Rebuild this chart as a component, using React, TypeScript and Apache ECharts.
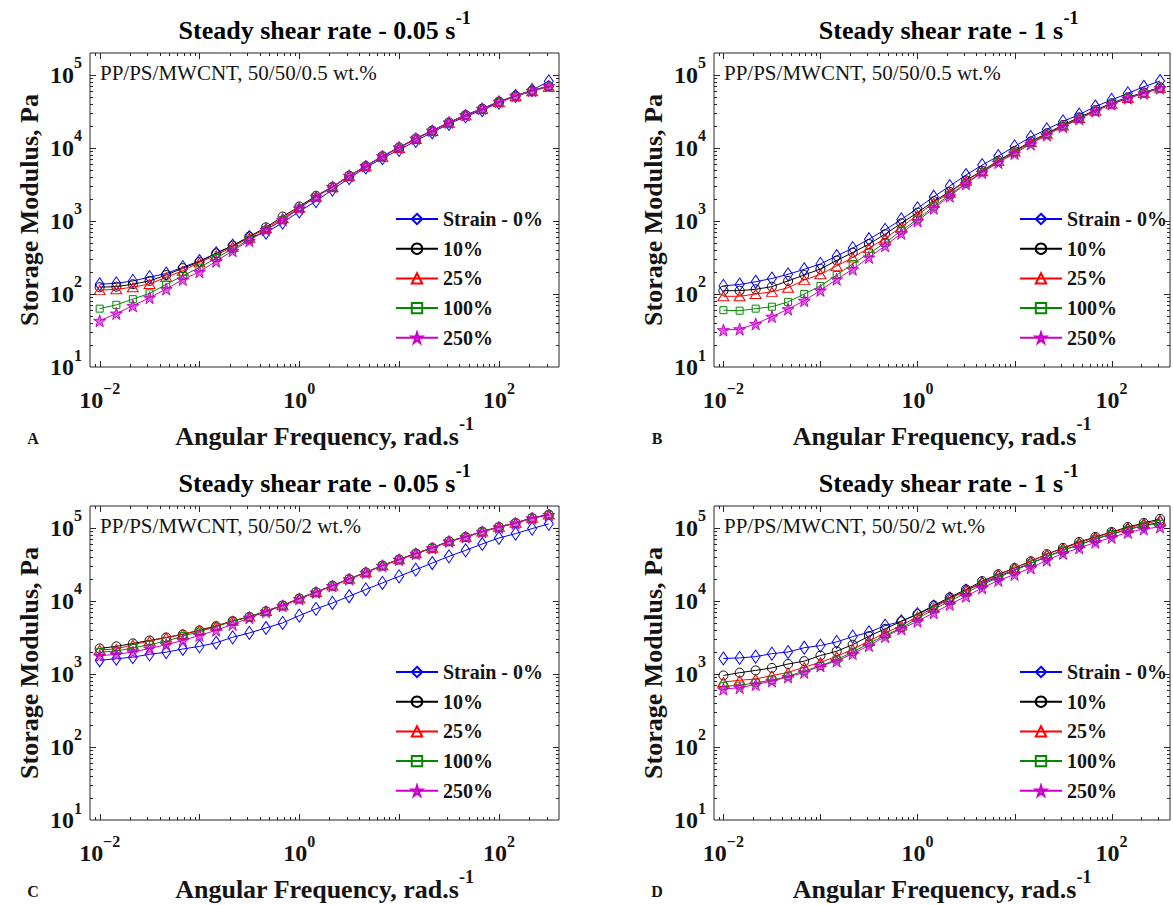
import React, { useEffect, useRef } from 'react';
import * as echarts from 'echarts';

const FONT = "'Liberation Serif', 'Times New Roman', serif";
const INK = '#141414';

// Angular frequency sweep, rad/s (six points per decade)
const FREQ = [0.01, 0.0147, 0.0215, 0.0316, 0.0464, 0.0681, 0.1, 0.147, 0.215, 0.316, 0.464, 0.681, 1, 1.47, 2.15, 3.16, 4.64, 6.81, 10, 14.7, 21.5, 31.6, 46.4, 68.1, 100, 147, 215, 316];

const LEGEND_NAMES = ['Strain - 0%', '10%', '25%', '100%', '250%'];
const X_LABELED = [-2, 0, 2];
const Y_LABELED = [1, 2, 3, 4, 5];
const X_MIN = 0.008;
const X_MAX = 400;
const Y_MIN = 10;
const Y_MAX = 2e5;

// Storage modulus G' (Pa) — 50/50/0.5 wt.%, steady pre-shear 0.05 1/s
const A_0 = [136, 140, 151, 170, 191, 233, 283, 361, 460, 600, 690, 950, 1350, 1870, 2690, 3860, 5400, 7240, 9400, 12500, 16400, 21300, 27100, 33000, 41700, 51600, 62200, 81900];
const A_10 = [124, 126, 136, 151, 182, 226, 276, 361, 460, 613, 818, 1150, 1580, 2210, 2940, 4170, 5650, 7740, 10200, 13500, 17300, 22400, 28300, 34600, 43100, 52000, 61000, 70600];
const A_25 = [113, 116, 124, 137, 170, 208, 271, 340, 444, 590, 795, 1090, 1520, 2150, 2900, 4100, 5600, 7600, 10000, 13300, 17100, 22100, 28000, 34200, 42500, 51000, 60000, 69000];
const A_100 = [63, 71, 85, 102, 135, 178, 230, 311, 414, 550, 757, 1030, 1490, 2150, 2920, 4150, 5600, 7700, 10100, 13400, 17200, 22300, 28200, 34400, 42800, 51500, 60500, 70000];
const A_250 = [43, 54, 69, 89, 117, 158, 201, 281, 391, 536, 757, 1030, 1490, 2150, 2940, 4170, 5650, 7740, 10200, 13500, 17300, 22400, 28300, 34600, 43100, 52000, 61000, 70600];

// 50/50/0.5 wt.%, steady pre-shear 1 1/s
const B_0 = [129, 135, 147, 163, 186, 218, 258, 331, 425, 563, 757, 1050, 1490, 2150, 3010, 4260, 5830, 7740, 10500, 14100, 18000, 23100, 28700, 37000, 45500, 56000, 69000, 82700];
const B_10 = [111, 111, 116, 126, 151, 182, 220, 288, 369, 483, 660, 930, 1300, 1870, 2500, 3600, 4870, 6700, 9100, 12300, 15900, 20700, 26300, 33000, 41000, 49400, 57600, 67800];
const B_25 = [93, 93, 100, 107, 122, 155, 186, 241, 316, 425, 575, 830, 1200, 1780, 2440, 3550, 4800, 6600, 8950, 12100, 15600, 20300, 25800, 32400, 40200, 48400, 56500, 66500];
const B_100 = [60, 59, 63, 67, 78, 100, 129, 182, 258, 361, 500, 740, 1050, 1580, 2280, 3290, 4700, 6450, 8700, 11700, 15300, 19900, 25400, 32200, 40000, 48200, 56200, 66200];
const B_250 = [32, 33, 39, 49, 62, 81, 112, 159, 218, 317, 457, 676, 1000, 1490, 2180, 3220, 4600, 6300, 8400, 11300, 15000, 19600, 25000, 32100, 39800, 48000, 56000, 66000];

// 50/50/2 wt.%, steady pre-shear 0.05 1/s
const C_0 = [1540, 1620, 1700, 1860, 1990, 2200, 2390, 2680, 3180, 3650, 4270, 5010, 6300, 7800, 9400, 11600, 14400, 17700, 21700, 26900, 33100, 40900, 49400, 60400, 72900, 83700, 98000, 114000];
const C_10 = [2240, 2390, 2620, 2880, 3160, 3480, 3950, 4520, 5300, 6050, 7240, 8680, 10800, 13200, 16200, 20000, 24600, 30600, 37000, 44600, 53300, 65700, 75300, 89100, 103000, 117000, 137000, 152000];
const C_25 = [2140, 2200, 2520, 2820, 3160, 3520, 4000, 4580, 5350, 6100, 7300, 8750, 10900, 13300, 16300, 20200, 24800, 30800, 37300, 45000, 53700, 66000, 75800, 89600, 104000, 118000, 138000, 153000];
const C_100 = [1990, 2060, 2280, 2520, 2820, 3300, 3800, 4440, 5300, 6050, 7240, 8680, 10800, 13200, 16200, 20000, 24600, 30600, 37000, 44600, 53300, 65700, 75300, 89100, 103000, 117000, 137000, 152000];
const C_250 = [1780, 1860, 1990, 2240, 2520, 2880, 3380, 3970, 4770, 5900, 7100, 8600, 10700, 13100, 16100, 19900, 24500, 30400, 36800, 44400, 53000, 65400, 75000, 88800, 102000, 116000, 136000, 151000];

// 50/50/2 wt.%, steady pre-shear 1 1/s
const D_0 = [1630, 1660, 1730, 1900, 2000, 2290, 2450, 2750, 3250, 3730, 4600, 5270, 6600, 8400, 10800, 13900, 17400, 21700, 26900, 32800, 40500, 49400, 59100, 70300, 82800, 95000, 108000, 120000];
const D_10 = [955, 1040, 1120, 1210, 1370, 1500, 1790, 2050, 2520, 3300, 4150, 5270, 6600, 8700, 11200, 14400, 18700, 23200, 28300, 35000, 43700, 53300, 64400, 75300, 88100, 103000, 117000, 133000];
const D_25 = [776, 820, 855, 950, 1050, 1240, 1450, 1740, 2180, 2820, 3650, 4600, 6150, 8100, 10700, 13900, 18100, 22800, 28300, 35000, 43500, 52400, 62700, 74000, 87000, 100000, 114000, 127000];
const D_100 = [680, 695, 760, 820, 930, 1100, 1290, 1580, 1990, 2620, 3380, 4270, 5730, 7650, 9950, 12900, 16700, 21000, 26100, 32700, 40300, 49400, 59100, 70300, 82800, 95000, 108000, 114000];
const D_250 = [620, 650, 715, 800, 910, 1050, 1290, 1500, 1900, 2450, 3250, 4150, 5270, 6900, 8950, 11600, 15100, 19100, 23000, 28300, 36100, 44900, 53300, 63600, 74000, 87000, 97000, 103000];

const PANELS = [
  { letter: 'A', rate: '0.05', blend: 'PP/PS/MWCNT, 50/50/0.5 wt.%', col: 0, row: 0, curves: [A_0, A_10, A_25, A_100, A_250] },
  { letter: 'B', rate: '1', blend: 'PP/PS/MWCNT, 50/50/0.5 wt.%', col: 1, row: 0, curves: [B_0, B_10, B_25, B_100, B_250] },
  { letter: 'C', rate: '0.05', blend: 'PP/PS/MWCNT, 50/50/2 wt.%', col: 0, row: 1, curves: [C_0, C_10, C_25, C_100, C_250] },
  { letter: 'D', rate: '1', blend: 'PP/PS/MWCNT, 50/50/2 wt.%', col: 1, row: 1, curves: [D_0, D_10, D_25, D_100, D_250] },
];

// Panel geometry
const GRID_LEFT = 90;
const GRID_TOP = 53;
const GRID_W = 469;
const GRID_H = 314;
const COL_STEP = 624;
const ROW_STEP = 453;

const STAR = 'path://M50,0 L61.2,34.5 L97.6,34.5 L68.2,55.9 L79.4,90.5 L50,69.1 L20.6,90.5 L31.8,55.9 L2.4,34.5 L38.8,34.5 Z';

const MARKERS = [
  { color: '#0000ff', symbol: 'diamond', size: [9, 13], fill: 'rgba(255,255,255,0)' },
  { color: '#000000', symbol: 'circle', size: 9, fill: 'rgba(255,255,255,0)' },
  { color: '#ff0000', symbol: 'triangle', size: [11, 9], fill: 'rgba(255,255,255,0)' },
  { color: '#008a00', symbol: 'rect', size: 7, fill: 'rgba(255,255,255,0)' },
  { color: '#cc00cc', symbol: STAR, size: 12, fill: 'rgba(204,0,204,0.6)' },
];

const supRich = (base: number, sup: number) => ({
  b: { fontFamily: FONT, fontWeight: 'bold', fontSize: base, lineHeight: base + 8, verticalAlign: 'bottom', color: INK },
  s: { fontFamily: FONT, fontWeight: 'bold', fontSize: sup, lineHeight: sup, verticalAlign: 'top', color: INK },
});

const decade = (v: number) => {
  const e = Math.log10(v);
  const r = Math.round(e);
  return Math.abs(e - r) < 1e-6 ? r : null;
};

const fmtX = (v: number) => {
  const e = decade(v);
  if (e === null || X_LABELED.indexOf(e) < 0) return '';
  return `{b|10}{s|${e < 0 ? '\u2212' + Math.abs(e) : e}}`;
};

const fmtY = (v: number) => {
  const e = decade(v);
  if (e === null || Y_LABELED.indexOf(e) < 0) return '';
  return `{b|10}{s|${e}}`;
};

// Log-axis tick positions (1..9 × 10^n) strictly inside a range
const logTicks = (lo: number, hi: number) => {
  const out: number[][] = [];
  for (let e = Math.floor(Math.log10(lo)); e <= Math.ceil(Math.log10(hi)); e++) {
    for (let m = 1; m <= 9; m++) {
      const v = m * Math.pow(10, e);
      if (v > lo * 1.0001 && v < hi * 0.9999) out.push([v, m === 1 ? 1 : 0]);
    }
  }
  return out;
};

const X_TICKS = logTicks(X_MIN, X_MAX);
const Y_TICKS = logTicks(Y_MIN, Y_MAX);

const TICK_STYLE = { stroke: '#262626', lineWidth: 1 };

function tickSeries(i: number) {
  return [
    {
      type: 'custom',
      xAxisIndex: i,
      yAxisIndex: i,
      silent: true,
      z: 6,
      data: X_TICKS.map((t) => [t[0], 100, t[1]]),
      renderItem: (params: any, api: any) => {
        const cs = params.coordSys;
        const x = Math.round(api.coord([api.value(0), 100])[0]) + 0.5;
        const len = api.value(2) ? 6 : 3;
        const b = cs.y + cs.height;
        return {
          type: 'group',
          children: [
            { type: 'line', shape: { x1: x, y1: b, x2: x, y2: b - len }, style: TICK_STYLE },
            { type: 'line', shape: { x1: x, y1: cs.y, x2: x, y2: cs.y + len }, style: TICK_STYLE },
          ],
        };
      },
    },
    {
      type: 'custom',
      xAxisIndex: i,
      yAxisIndex: i,
      silent: true,
      z: 6,
      data: Y_TICKS.map((t) => [1, t[0], t[1]]),
      renderItem: (params: any, api: any) => {
        const cs = params.coordSys;
        const y = Math.round(api.coord([1, api.value(1)])[1]) + 0.5;
        const len = api.value(2) ? 6 : 3;
        const r = cs.x + cs.width;
        return {
          type: 'group',
          children: [
            { type: 'line', shape: { x1: cs.x, y1: y, x2: cs.x + len, y2: y }, style: TICK_STYLE },
            { type: 'line', shape: { x1: r, y1: y, x2: r - len, y2: y }, style: TICK_STYLE },
          ],
        };
      },
    },
  ];
}

function buildOption() {
  const grid: any[] = [];
  const xAxis: any[] = [];
  const yAxis: any[] = [];
  const series: any[] = [];
  const legend: any[] = [];
  const graphic: any[] = [];

  PANELS.forEach((p, i) => {
    const dx = p.col * COL_STEP;
    const dy = p.row * ROW_STEP;
    const gl = GRID_LEFT + dx;
    const gt = GRID_TOP + dy;

    grid.push({
      left: gl,
      top: gt,
      width: GRID_W,
      height: GRID_H,
      show: true,
      borderColor: '#262626',
      borderWidth: 1,
      backgroundColor: 'rgba(0,0,0,0)',
    });

    xAxis.push({
      type: 'log',
      logBase: 10,
      gridIndex: i,
      min: X_MIN,
      max: X_MAX,
      axisLine: { show: false },
      axisTick: { show: false },
      splitLine: { show: false },
      axisLabel: { formatter: fmtX, margin: 13, rich: supRich(24, 16) },
      name: '{b|Angular Frequency, rad.s}{s|-1}',
      nameLocation: 'middle',
      nameGap: 48,
      nameTextStyle: { rich: supRich(26, 18) },
    });

    yAxis.push({
      type: 'log',
      logBase: 10,
      gridIndex: i,
      min: Y_MIN,
      max: Y_MAX,
      axisLine: { show: false },
      axisTick: { show: false },
      splitLine: { show: false },
      axisLabel: { formatter: fmtY, margin: 8, padding: [0, 0, 8, 0], rich: supRich(24, 16) },
      name: 'Storage Modulus, Pa',
      nameLocation: 'middle',
      nameGap: 48,
      nameTextStyle: { fontFamily: FONT, fontWeight: 'bold', fontSize: 26, color: INK },
    });

    p.curves.forEach((vals, j) => {
      const m = MARKERS[j];
      series.push({
        type: 'line',
        name: LEGEND_NAMES[j],
        xAxisIndex: i,
        yAxisIndex: i,
        data: FREQ.map((f, k) => [f, vals[k]]),
        symbol: m.symbol,
        symbolSize: m.size,
        showSymbol: true,
        showAllSymbol: true,
        lineStyle: { color: m.color, width: 1 },
        itemStyle: { color: m.fill, borderColor: m.color, borderWidth: 1 },
        emphasis: { disabled: true },
        z: 2 + j,
      });
    });

    series.push(...tickSeries(i));

    legend.push({
      orient: 'vertical',
      left: 395 + dx,
      top: 209 + dy,
      itemWidth: 42,
      itemHeight: 13,
      itemGap: 9.7,
      padding: 0,
      selectedMode: false,
      data: LEGEND_NAMES,
      textStyle: { fontFamily: FONT, fontWeight: 'bold', fontSize: 20, lineHeight: 20, color: INK, padding: [0, 0, 0, 0] },
    });

    graphic.push({
      type: 'text',
      x: gl + GRID_W / 2,
      y: 26 + dy,
      style: {
        text: `{b|Steady shear rate - ${p.rate} s}{s|-1}`,
        align: 'center',
        verticalAlign: 'middle',
        rich: supRich(26, 18),
      },
    });
    graphic.push({
      type: 'text',
      x: 100 + dx,
      y: 73 + dy,
      style: {
        text: p.blend,
        align: 'left',
        verticalAlign: 'middle',
        fontFamily: FONT,
        fontSize: 21,
        fill: INK,
      },
      z: 10,
    });
    graphic.push({
      type: 'text',
      x: 33 + dx,
      y: 438 + dy,
      style: {
        text: p.letter,
        align: 'center',
        verticalAlign: 'middle',
        fontFamily: FONT,
        fontWeight: 'bold',
        fontSize: 16,
        fill: INK,
      },
    });
  });

  return {
    animation: false,
    backgroundColor: '#ffffff',
    grid,
    xAxis,
    yAxis,
    legend,
    series,
    graphic,
  };
}

export default function App() {
  const ref = useRef<HTMLDivElement>(null);

  useEffect(() => {
    if (!ref.current) return;
    const chart = echarts.init(ref.current, undefined, { renderer: 'svg' });
    chart.setOption(buildOption() as any);
    return () => chart.dispose();
  }, []);

  return (
    <div
      ref={ref}
      style={{ position: 'fixed', left: 0, top: 0, width: 1173, height: 905, background: '#fff' }}
    />
  );
}
